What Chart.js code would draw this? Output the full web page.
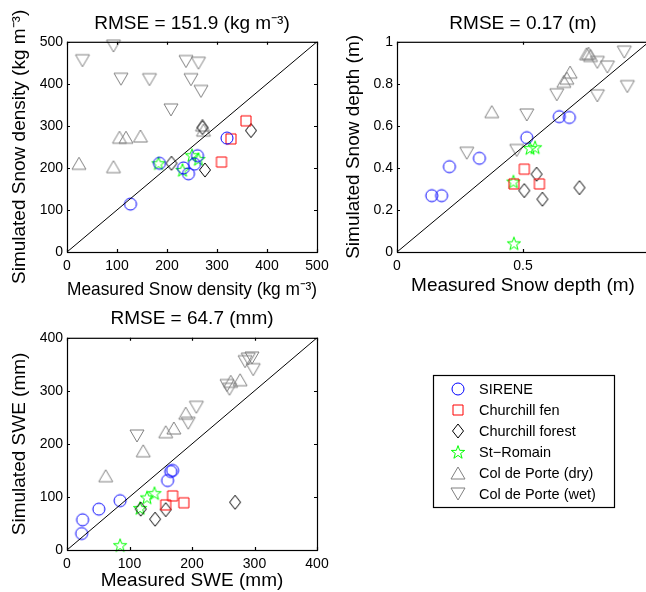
<!DOCTYPE html>
<html>
<head>
<meta charset="utf-8">
<script src="https://cdn.jsdelivr.net/npm/chart.js@4.4.1/dist/chart.umd.min.js"></script>
<style>
html, body { margin: 0; padding: 0; background: #fff; overflow: hidden; width: 646px; height: 592px; }
canvas { position: absolute; }
</style>
</head>
<body>
<canvas id="density" width="340" height="310" style="left:0;top:0"></canvas>
<canvas id="depth" width="330" height="310" style="left:330px;top:0"></canvas>
<canvas id="swe" width="646" height="292" style="left:0;top:300px"></canvas>
<script>
// sites, in legend order
const sites = ['SIRENE', 'Churchill fen', 'Churchill forest', 'St\u2212Romain', 'Col de Porte (dry)', 'Col de Porte (wet)'];
const siteShapes = ['circle', 'square', 'diamond', 'star', 'up', 'down'];
const siteColors = ['#0000ff', '#ff0000', '#000000', '#00ff00', '#808080', '#808080'];

// snow density (kg m-3), one list per site
const densityMeasured = [
    [127, 185, 233, 243, 255, 261, 320],
    [358, 328, 309],
    [209, 276, 271, 368],
    [183, 250, 263, 231],
    [24, 93, 105, 118, 147, 271, 273],
    [93, 31, 108, 165, 238, 263, 248, 268, 208]
];
const densitySimulated = [
    [114, 211, 200, 186, 209, 229, 271],
    [312, 269, 214],
    [211, 195, 296, 289],
    [211, 230, 221, 195],
    [211, 203, 273, 273, 276, 302, 290],
    [490, 455, 411, 410, 453, 449, 410, 382, 338]
];

// snow depth (m)
const depthMeasured = [
    [0.138, 0.177, 0.208, 0.327, 0.515, 0.644, 0.684],
    [0.505, 0.565, 0.464],
    [0.505, 0.554, 0.577, 0.724],
    [0.462, 0.528, 0.548, 0.464],
    [0.376, 0.662, 0.674, 0.687, 0.752, 0.760, 0.768],
    [0.277, 0.475, 0.515, 0.634, 0.795, 0.795, 0.835, 0.902, 0.914]
];
const depthSimulated = [
    [0.268, 0.268, 0.406, 0.446, 0.544, 0.644, 0.640],
    [0.394, 0.324, 0.324],
    [0.292, 0.370, 0.251, 0.306],
    [0.335, 0.494, 0.498, 0.041],
    [0.668, 0.812, 0.827, 0.856, 0.943, 0.946, 0.935],
    [0.470, 0.483, 0.652, 0.748, 0.743, 0.902, 0.880, 0.951, 0.787]
];

// SWE (mm)
const sweMeasured = [
    [23.5, 25, 51, 85, 161, 166, 169],
    [158, 169, 187],
    [118, 141, 158, 269],
    [85, 117, 128, 140],
    [62, 122, 158, 171, 190, 262, 277],
    [112, 194, 207, 260, 256, 285, 296, 290, 298]
];
const sweSimulated = [
    [31, 57, 77, 93, 131, 148, 150],
    [85, 102, 89],
    [77, 58, 76, 90],
    [9, 79, 99, 107],
    [140, 187, 223, 230, 258, 318, 321],
    [215, 239, 269, 303, 310, 355, 362, 360, 340]
];

Chart.defaults.font.family = "'Liberation Sans', Arial, sans-serif";
Chart.defaults.color = '#000';

// MATLAB-like hollow markers drawn once into small canvases
function makeMarker(shape, color) {
    const c = document.createElement('canvas');
    c.width = 20; c.height = 20;
    const g = c.getContext('2d');
    const cx = 10, cy = 10;
    g.strokeStyle = color;
    g.lineWidth = 1;
    g.beginPath();
    if (shape === 'circle') {
        g.arc(cx, cy, 6, 0, Math.PI * 2);
    } else if (shape === 'square') {
        g.rect(cx - 5, cy - 5, 10, 10);
    } else if (shape === 'diamond') {
        g.moveTo(cx, cy - 7); g.lineTo(cx + 5.5, cy); g.lineTo(cx, cy + 7); g.lineTo(cx - 5.5, cy);
        g.closePath();
    } else if (shape === 'star') {
        for (let i = 0; i < 10; i++) {
            const r = i % 2 ? 2.8 : 7;
            const a = -Math.PI / 2 + i * Math.PI / 5;
            const px = cx + r * Math.cos(a), py = cy + 0.6 + r * Math.sin(a);
            if (i) g.lineTo(px, py); else g.moveTo(px, py);
        }
        g.closePath();
    } else if (shape === 'up') {
        g.moveTo(cx, cy - 6); g.lineTo(cx + 7, cy + 6); g.lineTo(cx - 7, cy + 6);
        g.closePath();
    } else if (shape === 'down') {
        g.moveTo(cx, cy + 6); g.lineTo(cx + 7, cy - 6); g.lineTo(cx - 7, cy - 6);
        g.closePath();
    }
    g.stroke();
    return c;
}
const markers = siteShapes.map((s, i) => makeMarker(s, siteColors[i]));

function buildDatasets(measured, simulated, max) {
    const sets = sites.map((name, i) => ({
        label: name,
        data: measured[i].map((m, k) => ({ x: m, y: simulated[i][k] })),
        pointStyle: markers[i],
        pointRadius: 6,
        pointHoverRadius: 6,
        clip: false
    }));
    // 1:1 line
    sets.unshift({
        type: 'line',
        label: '1:1',
        data: [{ x: 0, y: 0 }, { x: max, y: max }],
        borderColor: '#000',
        borderWidth: 1,
        pointRadius: 0,
        fill: false
    });
    return sets;
}

// tick labels without trailing zeros (1 not 1.0)
const plainTick = v => String(parseFloat(Number(v).toFixed(3)));

// box with inward ticks on all four sides
const framePlugin = {
    id: 'frame',
    afterDatasetsDraw(chart) {
        const { ctx, chartArea: a, scales: { x, y } } = chart;
        ctx.save();
        ctx.strokeStyle = '#000';
        ctx.lineWidth = 1.2;
        ctx.strokeRect(a.left + 0.5, a.top + 0.5, a.right - a.left, a.bottom - a.top);
        ctx.beginPath();
        x.ticks.forEach(t => {
            const px = Math.round(x.getPixelForValue(t.value)) + 0.5;
            ctx.moveTo(px, a.bottom); ctx.lineTo(px, a.bottom - 3);
            ctx.moveTo(px, a.top); ctx.lineTo(px, a.top + 3);
        });
        y.ticks.forEach(t => {
            const py = Math.round(y.getPixelForValue(t.value)) + 0.5;
            ctx.moveTo(a.left, py); ctx.lineTo(a.left + 3, py);
            ctx.moveTo(a.right, py); ctx.lineTo(a.right - 3, py);
        });
        ctx.stroke();
        ctx.restore();
    }
};

// boxed legend to the right of the SWE panel
const legendPlugin = {
    id: 'siteLegend',
    afterDraw(chart) {
        const ctx = chart.ctx;
        ctx.save();
        ctx.strokeStyle = '#000';
        ctx.lineWidth = 1.2;
        ctx.strokeRect(433.5, 75.5, 181, 132);
        ctx.font = "14.5px 'Liberation Sans', Arial, sans-serif";
        ctx.fillStyle = '#000';
        ctx.textBaseline = 'middle';
        chart.data.datasets.filter(d => d.type !== 'line').forEach((d, i) => {
            const rowY = 89 + i * 21;
            ctx.drawImage(d.pointStyle, 458 - 10, rowY - 10);
            ctx.fillText(d.label, 479, rowY + 1);
        });
        ctx.restore();
    }
};

function makeChart(id, opts) {
    const plugins = [framePlugin];
    if (opts.legend) plugins.push(legendPlugin);
    return new Chart(document.getElementById(id), {
        type: 'scatter',
        data: { datasets: buildDatasets(opts.measured, opts.simulated, opts.max) },
        plugins: plugins,
        options: {
            responsive: false,
            animation: false,
            devicePixelRatio: 1,
            layout: { padding: { right: opts.padRight } },
            plugins: {
                legend: { display: false },
                tooltip: { enabled: false },
                title: {
                    display: true,
                    text: opts.title,
                    fullSize: false,
                    font: { size: 19, weight: 'normal' },
                    padding: { top: opts.titleTop, bottom: opts.titleBottom }
                }
            },
            scales: {
                x: {
                    type: 'linear',
                    min: 0, max: opts.max,
                    ticks: { stepSize: opts.xStep, padding: 6, font: { size: 14 }, autoSkip: false, maxRotation: 0, callback: plainTick },
                    grid: { display: false, drawTicks: false },
                    border: { display: false },
                    title: { display: true, text: opts.xTitle, font: { size: 19 }, padding: { top: 0, bottom: opts.xTitlePad } },
                    afterFit(s) { s.height = opts.xHeight; }
                },
                y: {
                    type: 'linear',
                    min: 0, max: opts.max,
                    ticks: { stepSize: opts.yStep, padding: 4, font: { size: 14 }, autoSkip: false, callback: plainTick },
                    grid: { display: false, drawTicks: false },
                    border: { display: false },
                    title: { display: true, text: opts.yTitle, font: { size: 19 }, padding: { top: opts.yTitlePad, bottom: 0 } },
                    afterFit(s) { s.width = 67; }
                }
            }
        }
    });
}

makeChart('density', {
    measured: densityMeasured, simulated: densitySimulated, max: 500,
    xStep: 100, yStep: 100, padRight: 23,
    title: 'RMSE = 151.9 (kg m\u207B\u00B3)', titleTop: 12, titleBottom: 7,
    xTitle: 'Measured Snow density (kg m\u207B\u00B3)', xTitlePad: 8.6, xHeight: 58,
    yTitle: 'Simulated Snow density (kg m\u207B\u00B3)', yTitlePad: 8.6
});

makeChart('depth', {
    measured: depthMeasured, simulated: depthSimulated, max: 1,
    xStep: 0.5, yStep: 0.2, padRight: 11,
    title: 'RMSE = 0.17 (m)', titleTop: 12, titleBottom: 7,
    xTitle: 'Measured Snow depth (m)', xTitlePad: 12.6, xHeight: 58,
    yTitle: 'Simulated Snow depth (m)', yTitlePad: 12.6
});

makeChart('swe', {
    measured: sweMeasured, simulated: sweSimulated, max: 400,
    xStep: 100, yStep: 100, padRight: 329, legend: true,
    title: 'RMSE = 64.7 (mm)', titleTop: 7, titleBottom: 8,
    xTitle: 'Measured SWE (mm)', xTitlePad: 0, xHeight: 42,
    yTitle: 'Simulated SWE (mm)', yTitlePad: 8.6
});
</script>
</body>
</html>
